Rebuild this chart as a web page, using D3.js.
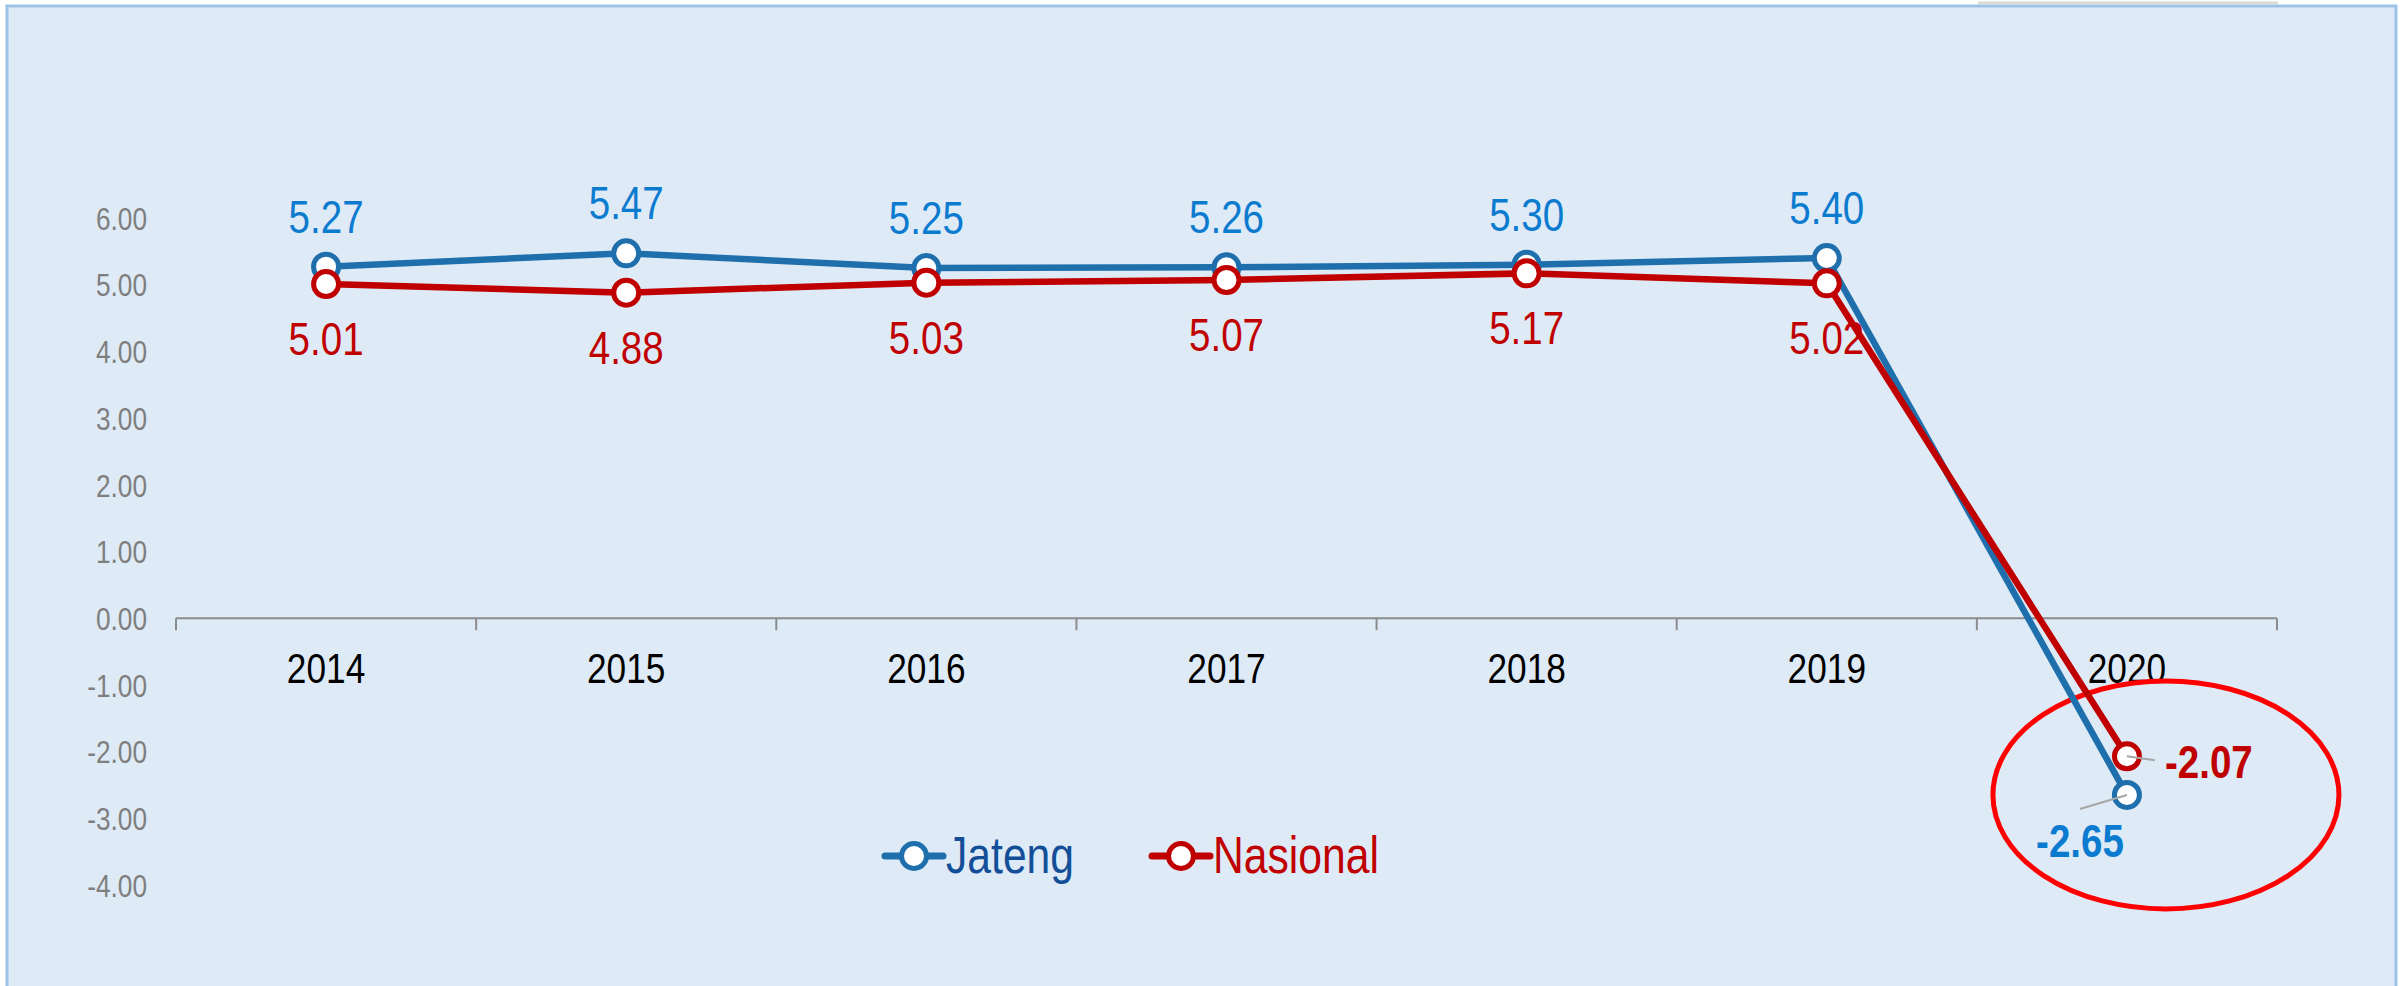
<!DOCTYPE html>
<head>
  <meta charset="utf-8">
  <script src="https://d3js.org/d3.v7.min.js"></script>
  <style>
    body { margin:0; background:#fff; }
    svg { display:block; }
    text { font-family: "Liberation Sans", Arial, sans-serif; }
  </style>
</head>
<body>
<div id="chart"></div>
<script>

  var years    = ["2014", "2015", "2016", "2017", "2018", "2019", "2020"];
  var jateng   = [5.27, 5.47, 5.25, 5.26, 5.30, 5.40, -2.65];
  var nasional = [5.01, 4.88, 5.03, 5.07, 5.17, 5.02, -2.07];
  var yTicks   = [6, 5, 4, 3, 2, 1, 0, -1, -2, -3, -4];

  var width = 2405, height = 986;

  var svg = d3.select("#chart").append("svg")
      .attr("width", width)
      .attr("height", height);

  // no Arial Narrow here, so squeeze Liberation Sans the same way
  function narrow(sel) {
    sel.each(function() {
      var t = d3.select(this);
      var tx = +t.attr("x") || 0, ty = +t.attr("y") || 0;
      t.attr("x", 0).attr("y", 0)
       .attr("transform", "translate(" + tx + "," + ty + ") scale(0.82,1)");
    });
  }

  // panel
  svg.append("rect")
      .attr("x", 7).attr("y", 6)
      .attr("width", 2389).attr("height", 1000)
      .attr("fill", "#deeaf6")
      .attr("stroke", "#9dc3e6")
      .attr("stroke-width", 3);
  svg.append("line")
      .attr("x1", 1978).attr("x2", 2278).attr("y1", 3).attr("y2", 3)
      .attr("stroke", "#d9d9d9").attr("stroke-width", 3);

  var x = d3.scaleBand().domain(years).range([176, 2277]);
  var y = d3.scaleLinear().domain([-4, 6]).range([885, 218]);
  var fmt = function(v) { return v.toFixed(2); };

  // y axis (labels only)
  var yAxis = d3.axisLeft(y).tickValues(yTicks).tickSize(0).tickPadding(0).tickFormat(fmt);
  var gy = svg.append("g").attr("transform", "translate(147,0)").call(yAxis);
  gy.select(".domain").remove();
  gy.selectAll("text")
      .attr("fill", "#7f7f7f")
      .attr("font-size", 32)
      .attr("dy", "0.35em")
      .attr("transform", "scale(0.82,1)");

  // x axis at zero
  var gx = svg.append("g").attr("transform", "translate(0," + y(0) + ")");
  gx.append("line")
      .attr("x1", x.range()[0]).attr("x2", x.range()[1])
      .attr("stroke", "#8c8c8c").attr("stroke-width", 2);
  var edges = years.map(function(d) { return x(d); }).concat([x.range()[1]]);
  gx.selectAll(".tk").data(edges).enter().append("line")
      .attr("x1", function(d) { return d; }).attr("x2", function(d) { return d; })
      .attr("y1", 0).attr("y2", 12)
      .attr("stroke", "#8c8c8c").attr("stroke-width", 2);
  gx.selectAll(".yr").data(years).enter().append("text")
      .attr("x", function(d) { return x(d) + x.bandwidth() / 2; })
      .attr("y", 65)
      .attr("text-anchor", "middle")
      .attr("font-size", 43)
      .attr("fill", "#000")
      .text(function(d) { return d; })
      .call(narrow);

  var cx = function(d, i) { return x(years[i]) + x.bandwidth() / 2; };

  var line = d3.line()
      .x(function(d, i) { return x(years[i]) + x.bandwidth() / 2; })
      .y(function(d) { return y(d); });

  var c20 = x("2020") + x.bandwidth() / 2;

  // red ellipse highlight around 2020
  svg.append("ellipse")
      .attr("cx", c20 + 39).attr("cy", y(jateng[6]))
      .attr("rx", 173).attr("ry", 114)
      .attr("fill", "none")
      .attr("stroke", "#ff0000")
      .attr("stroke-width", 5);

  var series = [
    { name: "Jateng", values: jateng, color: "#1f6fad", label: "#0b7bd0", legend: "#124f98" },
    { name: "Nasional", values: nasional, color: "#c00000", label: "#c00000", legend: "#c00000" }
  ];

  series.forEach(function(s) {
    svg.append("path")
        .attr("d", line(s.values))
        .attr("fill", "none")
        .attr("stroke", s.color)
        .attr("stroke-width", 6.5)
        .attr("stroke-linejoin", "round");
    svg.selectAll(".m-" + s.name).data(s.values).enter().append("circle")
        .attr("cx", cx)
        .attr("cy", function(d) { return y(d); })
        .attr("r", 12.5)
        .attr("fill", "#fff")
        .attr("stroke", s.color)
        .attr("stroke-width", 5);
  });

  // leader lines for 2020
  svg.append("line")
      .attr("x1", c20).attr("y1", y(nasional[6])).attr("x2", c20 + 28).attr("y2", y(nasional[6]) + 4)
      .attr("stroke", "#a6a6a6").attr("stroke-width", 2);
  svg.append("line")
      .attr("x1", c20).attr("y1", y(jateng[6])).attr("x2", c20 - 47).attr("y2", y(jateng[6]) + 14)
      .attr("stroke", "#a6a6a6").attr("stroke-width", 2);

  // data labels
  svg.selectAll(".lj").data(jateng.slice(0, 6)).enter().append("text")
      .attr("x", cx)
      .attr("y", function(d) { return y(d) - 34; })
      .attr("text-anchor", "middle")
      .attr("font-size", 47)
      .attr("fill", series[0].label)
      .text(fmt)
      .call(narrow);
  svg.selectAll(".ln").data(nasional.slice(0, 6)).enter().append("text")
      .attr("x", cx)
      .attr("y", function(d) { return y(d) + 71; })
      .attr("text-anchor", "middle")
      .attr("font-size", 47)
      .attr("fill", series[1].label)
      .text(fmt)
      .call(narrow);

  svg.append("text")
      .attr("x", c20 + 38).attr("y", y(nasional[6]) + 22)
      .attr("font-size", 47).attr("font-weight", "bold")
      .attr("fill", "#c00000")
      .text(fmt(nasional[6]))
      .call(narrow);
  svg.append("text")
      .attr("x", c20 - 3).attr("y", y(jateng[6]) + 62)
      .attr("text-anchor", "end")
      .attr("font-size", 47).attr("font-weight", "bold")
      .attr("fill", "#0b7bd0")
      .text(fmt(jateng[6]))
      .call(narrow);

  // legend
  var legendX = [885, 1152];
  series.forEach(function(s, i) {
    var g = svg.append("g").attr("transform", "translate(" + legendX[i] + ",856)");
    g.append("line").attr("x1", 0).attr("x2", 58)
        .attr("stroke", s.color).attr("stroke-width", 7).attr("stroke-linecap", "round");
    g.append("circle").attr("cx", 29).attr("r", 12.5)
        .attr("fill", "#fff").attr("stroke", s.color).attr("stroke-width", 5);
    g.append("text").attr("x", 61).attr("y", 17)
        .attr("font-size", 52)
        .attr("fill", s.legend)
        .text(s.name)
        .call(narrow);
  });

</script>
</body>
